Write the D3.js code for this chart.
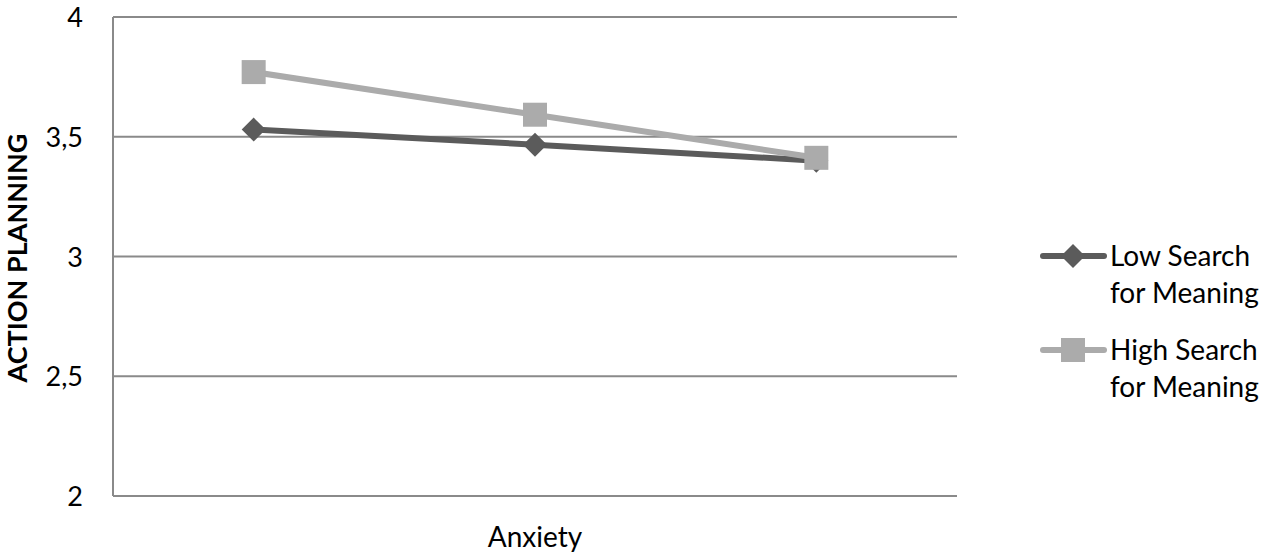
<!DOCTYPE html>
<html><head><meta charset="utf-8">
<script src="https://cdn.jsdelivr.net/npm/d3@7"></script>
<style>body{margin:0;background:#fff}svg{display:block}text{font-family:Lato,"Open Sans",sans-serif}</style>
</head><body><svg id="c" width="1268" height="557"></svg>
<script>
const categories = ["1", "2", "3"];
const lowSearch = [3.53, 3.467, 3.40];
const highSearch = [3.77, 3.592, 3.412];
const yTicks = [2, 2.5, 3, 3.5, 4];
const seriesNames = [["Low Search", "for Meaning"], ["High Search", "for Meaning"]];
const xTitle = "Anxiety";
const yTitle = "ACTION PLANNING";

const svg = d3.select("#c");
const L = 113, R = 957, T = 17, B = 496;
const x = d3.scaleBand().domain(categories).range([L, R]);
const y = d3.scaleLinear().domain([2, 4]).range([B, T]);
const fmt = d => String(d).replace(".", ",");

svg.append("g").selectAll("line").data(yTicks).join("line")
  .attr("x1", L).attr("x2", R).attr("y1", d => y(d)).attr("y2", d => y(d))
  .attr("stroke", "#8a8a8a").attr("stroke-width", 2);
svg.append("line").attr("x1", L).attr("x2", L).attr("y1", T).attr("y2", B)
  .attr("stroke", "#8a8a8a").attr("stroke-width", 2);
svg.append("g").selectAll("text").data(yTicks).join("text")
  .attr("x", 83).attr("y", d => y(d) + 10).attr("text-anchor", "end")
  .attr("font-size", 27).attr("fill", "#000").text(fmt);

svg.append("text").attr("transform", `translate(27,${258}) rotate(-90)`)
  .attr("text-anchor", "middle").attr("font-size", 27).attr("font-weight", "bold")
  .text(yTitle);
svg.append("text").attr("x", 535).attr("y", 547).attr("text-anchor", "middle")
  .attr("font-size", 28).text(xTitle);

const cx = (d, i) => x(categories[i]) + x.bandwidth() / 2;
const line = d3.line().x(cx).y(d => y(d));
const series = [
  {vals: lowSearch, color: "#5b5b5b", shape: "diamond"},
  {vals: highSearch, color: "#ababab", shape: "square"}
];
const drawMarker = (g, shape, color, px, py) => {
  if (shape === "diamond") {
    g.append("path").attr("d", `M${px},${py - 12}L${px + 12},${py}L${px},${py + 12}L${px - 12},${py}Z`).attr("fill", color);
  } else {
    g.append("rect").attr("x", px - 12).attr("y", py - 12).attr("width", 24).attr("height", 24).attr("fill", color);
  }
};
series.forEach(s => {
  const g = svg.append("g");
  g.append("path").attr("d", line(s.vals)).attr("fill", "none")
    .attr("stroke", s.color).attr("stroke-width", 6);
  s.vals.forEach((v, i) => drawMarker(g, s.shape, s.color, cx(v, i), y(v)));
});

const legY = [256, 350];
series.forEach((s, i) => {
  const g = svg.append("g");
  g.append("line").attr("x1", 1043).attr("x2", 1104).attr("y1", legY[i]).attr("y2", legY[i])
    .attr("stroke", s.color).attr("stroke-width", 6).attr("stroke-linecap", "round");
  drawMarker(g, s.shape, s.color, 1073, legY[i]);
  seriesNames[i].forEach((t, j) => {
    g.append("text").attr("x", 1110).attr("y", legY[i] + 10 + j * 37)
      .attr("font-size", 28).attr("fill", "#000").text(t);
  });
});
</script></body></html>
